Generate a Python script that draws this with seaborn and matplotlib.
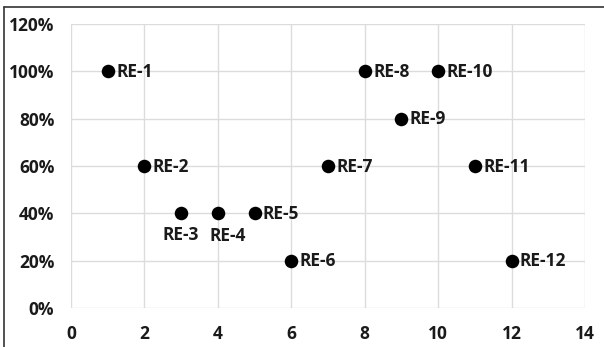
import matplotlib
matplotlib.use("Agg")
from matplotlib import pyplot as plt
from matplotlib.lines import Line2D
from matplotlib.ticker import PercentFormatter
import pandas as pd
import seaborn as sns

# chart values
labels = ["RE-1", "RE-2", "RE-3", "RE-4", "RE-5", "RE-6",
          "RE-7", "RE-8", "RE-9", "RE-10", "RE-11", "RE-12"]
x_vals = [1, 2, 3, 4, 5, 6, 7, 8, 9, 10, 11, 12]
y_vals = [1.0, 0.6, 0.4, 0.4, 0.4, 0.2, 0.6, 1.0, 0.8, 1.0, 0.6, 0.2]

# label placement (offset in points) for labels that sit under their point
below = {"RE-3": (0, -9), "RE-4": (7, -10)}

df = pd.DataFrame({"x": x_vals, "y": y_vals, "label": labels})

sns.set_style("white")
plt.rcParams["font.family"] = ["Open Sans", "DejaVu Sans"]
plt.rcParams["font.weight"] = "bold"

fig = plt.figure(figsize=(6.04, 3.47), dpi=100)
ax = fig.add_axes([71 / 604, 1 - 308 / 347, (585 - 71) / 604, (308 - 24) / 347])

sns.scatterplot(data=df, x="x", y="y", ax=ax, color="black", s=95,
                edgecolor="black", linewidth=0, zorder=3, clip_on=False)

fs = 12.5
for _, row in df.iterrows():
    if row["label"] in below:
        ax.annotate(row["label"], (row["x"], row["y"]), xytext=below[row["label"]],
                    textcoords="offset points", ha="center", va="top",
                    fontsize=fs, fontweight="bold", color="#1a1a1a")
    else:
        ax.annotate(row["label"], (row["x"], row["y"]), xytext=(6, -0.5),
                    textcoords="offset points", ha="left", va="center",
                    fontsize=fs, fontweight="bold", color="#1a1a1a")

ax.set_xlim(0, 14)
ax.set_ylim(0, 1.2)
ax.set_xticks(range(0, 15, 2))
ax.set_yticks([0, 0.2, 0.4, 0.6, 0.8, 1.0, 1.2])
ax.yaxis.set_major_formatter(PercentFormatter(1.0, decimals=0))
ax.grid(True, color="#dcdcdc", linewidth=1)
ax.set_axisbelow(True)
for sp in ax.spines.values():
    sp.set_visible(False)
ax.tick_params(axis="both", length=0, labelsize=fs, colors="#1a1a1a")
ax.tick_params(axis="x", pad=12)
ax.tick_params(axis="y", pad=12)
ax.set_xlabel("")
ax.set_ylabel("")

# outer frame (left and top edges visible)
fig.add_artist(Line2D([4 / 604, 4 / 604], [0, 1 - 7 / 347], color="#333333", lw=1.2))
fig.add_artist(Line2D([4 / 604, 1], [1 - 7 / 347, 1 - 7 / 347], color="#333333", lw=1.2))

fig.savefig("out.png", dpi=100)
